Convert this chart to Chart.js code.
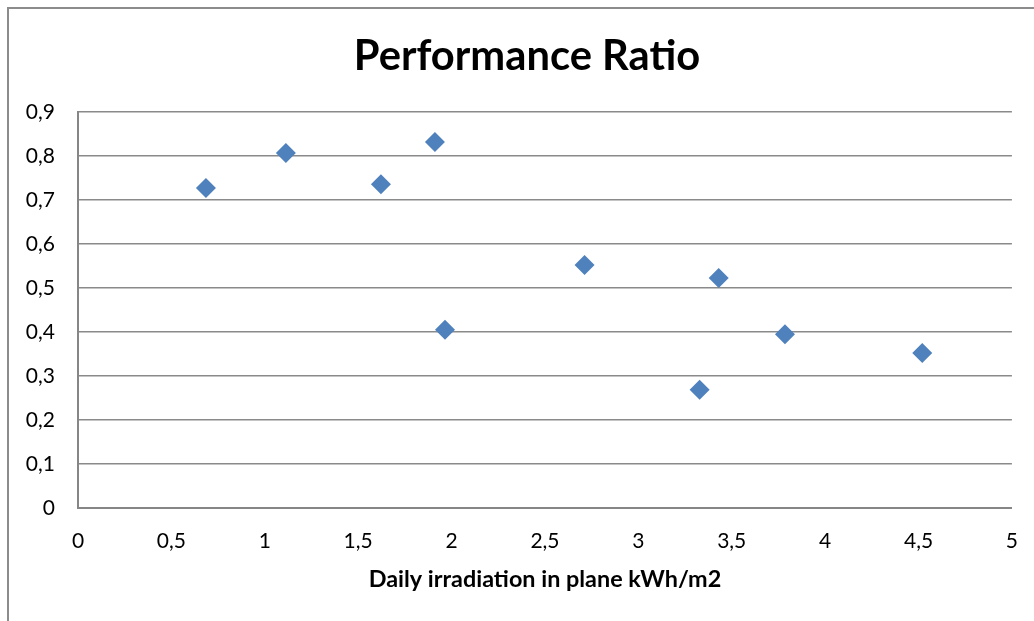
<!DOCTYPE html>
<html>
<head>
<meta charset="utf-8">
<script src="https://cdn.jsdelivr.net/npm/chart.js@4/dist/chart.umd.min.js"></script>
<style>
html,body{margin:0;padding:0;background:#fff;}
#wrap{position:relative;width:1034px;height:621px;}
</style>
</head>
<body>
<div id="wrap"><canvas id="c" width="1034" height="621"></canvas></div>
<script>
const irradiation = [0.685, 1.113, 1.622, 1.911, 1.965, 2.712, 3.430, 3.328, 3.785, 4.520];
const performanceRatio = [0.727, 0.807, 0.736, 0.832, 0.405, 0.552, 0.523, 0.269, 0.395, 0.352];
const chartTitle = 'Performance Ratio';
const xAxisTitle = 'Daily irradiation in plane kWh/m2';

const points = irradiation.map((x, i) => ({x: x, y: performanceRatio[i]}));
const fmt = v => String(Number(v.toFixed(2))).replace('.', ',');
const FONT = 'Lato, "Open Sans", sans-serif';

const frame = {
  id: 'frame',
  beforeDraw(chart) {
    const ctx = chart.ctx;
    ctx.save();
    ctx.fillStyle = '#fff';
    ctx.fillRect(0, 0, chart.width, chart.height);
    ctx.strokeStyle = '#8c8c8c';
    ctx.lineWidth = 2;
    ctx.beginPath();
    ctx.moveTo(8, chart.height);
    ctx.lineTo(8, 8);
    ctx.lineTo(chart.width, 8);
    ctx.stroke();
    ctx.restore();
  },
  afterDraw(chart) {
    const ctx = chart.ctx;
    ctx.save();
    ctx.fillStyle = '#000';
    ctx.font = 'bold 41.7px ' + FONT;
    ctx.textAlign = 'center';
    ctx.textBaseline = 'alphabetic';
    ctx.fillText(chartTitle, 527, 70);
    ctx.restore();
  }
};

new Chart(document.getElementById('c'), {
  type: 'scatter',
  data: {
    datasets: [{
      label: 'PR',
      data: points,
      pointStyle: 'rectRot',
      pointRadius: 10,
      pointHoverRadius: 10,
      backgroundColor: '#4F81BD',
      borderColor: '#4F81BD',
      borderWidth: 0
    }]
  },
  options: {
    responsive: false,
    animation: false,
    layout: {padding: {left: 0, right: 0, top: 112, bottom: 0}},
    plugins: {
      legend: {display: false},
      tooltip: {enabled: false},
      title: {display: false}
    },
    scales: {
      x: {
        type: 'linear',
        min: 0, max: 5,
        afterFit(s) { s.height = 113; },
        ticks: {stepSize: 0.5, color: '#000', padding: 16, font: {family: FONT, size: 21, lineHeight: 1.65}, callback: v => fmt(v), maxRotation: 0},
        grid: {display: false, drawTicks: false},
        border: {display: true, color: '#868686', width: 2},
        title: {display: true, text: xAxisTitle, color: '#000', font: {family: FONT, size: 23.4, weight: 'bold', lineHeight: 1.2}, padding: {top: 0, bottom: 28}}
      },
      y: {
        min: 0, max: 0.9,
        afterFit(s) { s.width = 78; },
        ticks: {stepSize: 0.1, color: '#000', padding: 23, font: {family: FONT, size: 21}, callback: v => fmt(v)},
        grid: {display: true, color: '#8a8a8a', lineWidth: 1.5, drawTicks: false},
        border: {display: true, color: '#868686', width: 2}
      }
    }
  },
  plugins: [frame]
});
</script>
</body>
</html>
